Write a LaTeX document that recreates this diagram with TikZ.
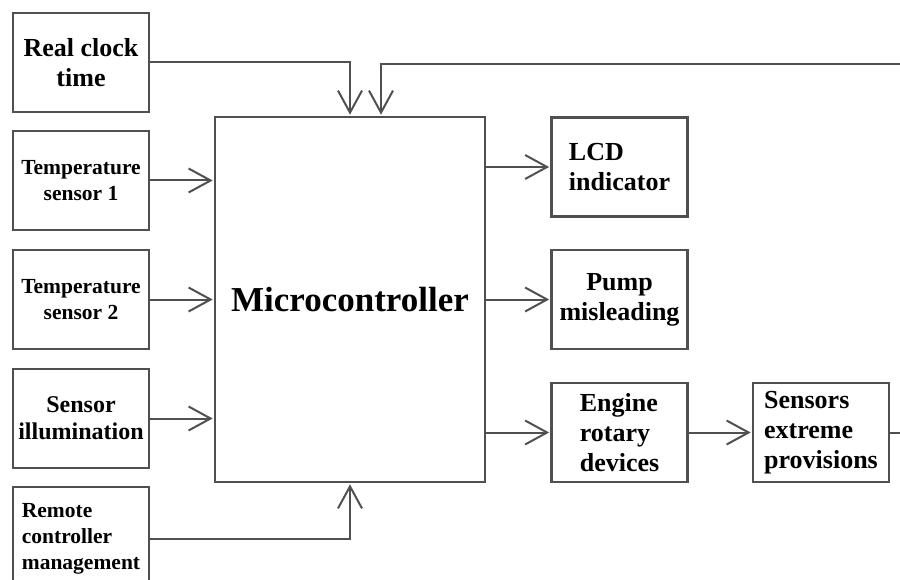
\documentclass[tikz,border=0pt]{standalone}
\usepackage{fontspec}
\setmainfont{Liberation Serif}
\usetikzlibrary{arrows.meta}
\definecolor{ln}{HTML}{505050}
\tikzset{
 box/.style={draw=ln, line width=2.2pt, minimum width=136pt, minimum height=99pt, inner sep=0pt, font=\bfseries\fontsize{26}{30}\selectfont, align=center, text=black},
 small/.style={font=\bfseries\fontsize{21.5}{26}\selectfont},
 conn/.style={draw=ln, line width=2pt, shorten >=1.2pt, -{Straight Barb[length=22pt,width=24pt,line width=2pt]}},
 plain/.style={draw=ln, line width=2pt}
}
\begin{document}
\begin{tikzpicture}[x=1pt,y=-1pt]
\useasboundingbox (0,0) rectangle (900,580);
\clip (0,0) rectangle (900,580);
\node[box] (clock) at (81,62.5) {Real clock\\time};
\node[box, small] (t1) at (81,180.5) {Temperature\\sensor 1};
\node[box, small] (t2) at (81,299.5) {Temperature\\sensor 2};
\node[box, font=\bfseries\fontsize{24}{27}\selectfont] (ill) at (81,418.5) {Sensor\\illumination};
\node[box, small, align=left, minimum height=103pt] (rem) at (81,538.5) {Remote\\controller\\management};
\node[box, minimum width=270pt, minimum height=365pt, font=\bfseries\fontsize{35}{40}\selectfont] (mc) at (350,299.5) {Microcontroller};
\node[box, align=left] (lcd) at (619.5,167) {LCD\\indicator};
\node[box] (pump) at (619.5,299.5) {Pump\\misleading};
\node[box, align=left] (eng) at (619.5,432.5) {Engine\\rotary\\devices};
\node[box, align=left] (sens) at (821,432.5) {Sensors\\extreme\\provisions};
\coordinate (fbR) at (905,64);
\coordinate (fbL) at (381,64);
\coordinate (sR) at (905,432.5);
\draw[conn] (clock.east) -| (mc.north);
\draw[conn] (fbR) -- (fbL) -- (fbL |- mc.north);
\draw[conn] (t1.east) -- (t1.east -| mc.west);
\draw[conn] (t2.east) -- (t2.east -| mc.west);
\draw[conn] (ill.east) -- (ill.east -| mc.west);
\draw[conn] (rem.east) -| (mc.south);
\draw[conn] (lcd.west -| mc.east) -- (lcd.west);
\draw[conn] (pump.west -| mc.east) -- (pump.west);
\draw[conn] (eng.west -| mc.east) -- (eng.west);
\draw[conn] (eng.east) -- (sens.west);
\draw[plain] (sens.east) -- (sR);
\end{tikzpicture}
\end{document}
